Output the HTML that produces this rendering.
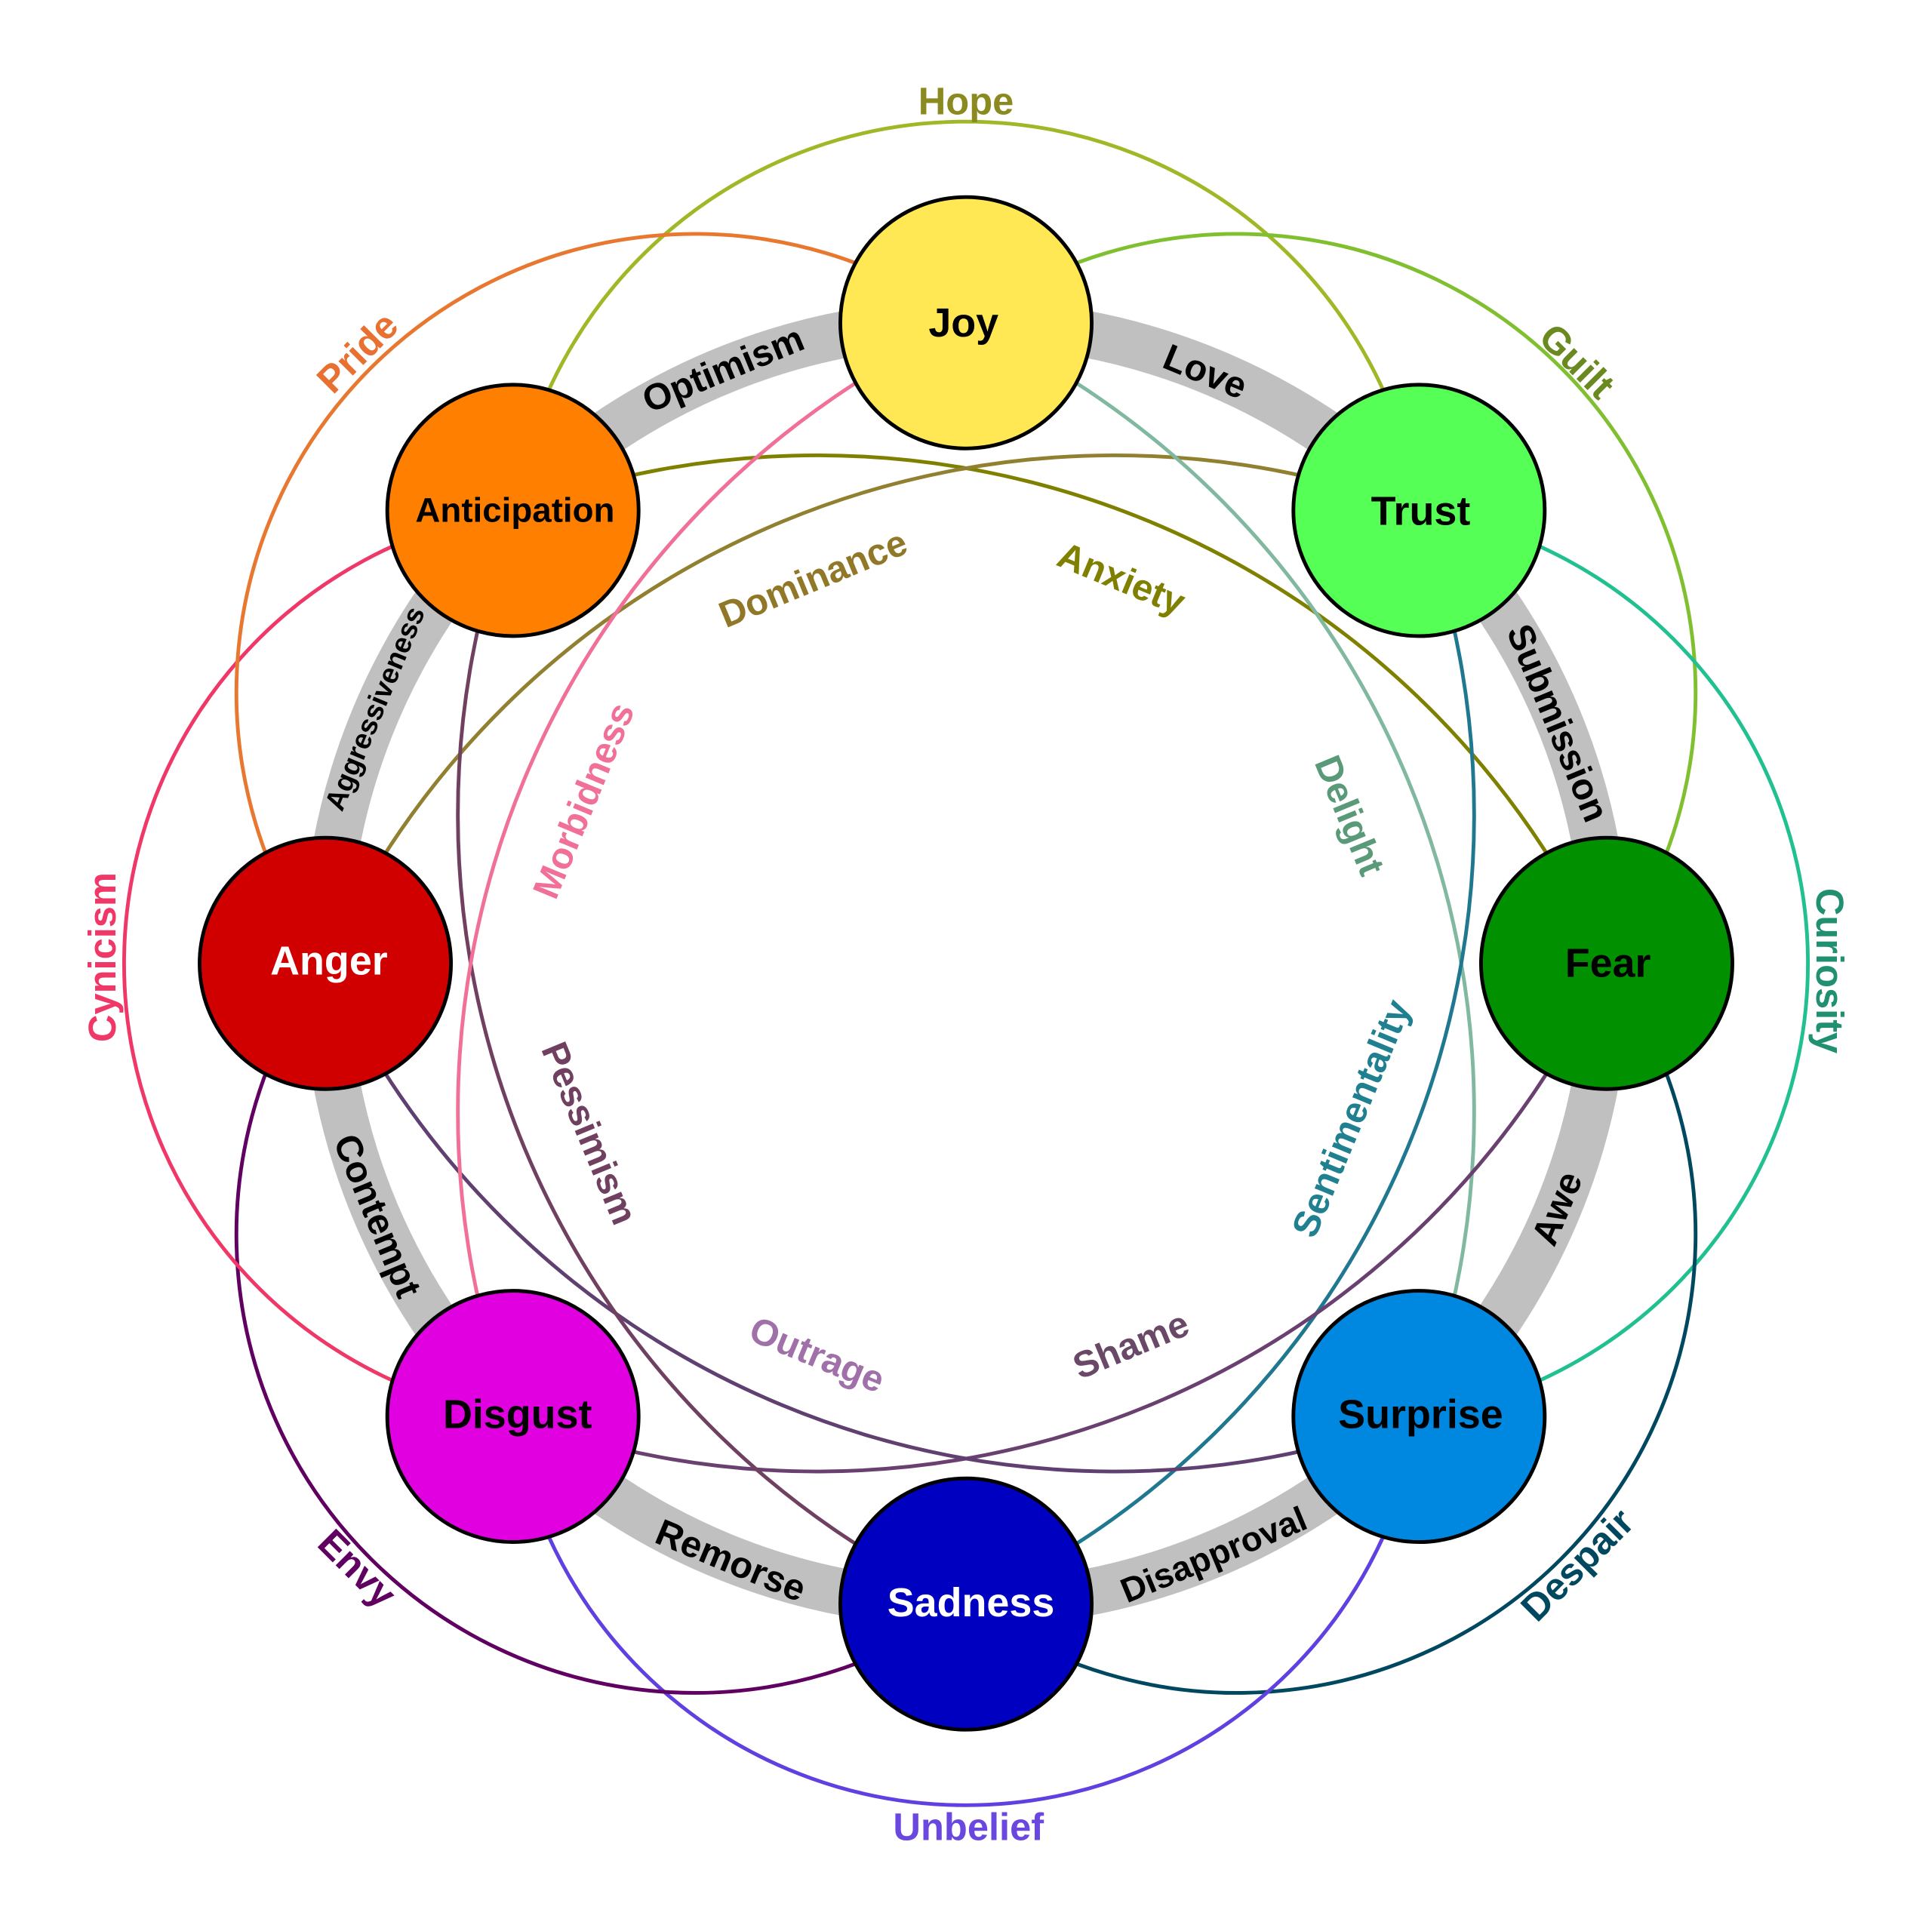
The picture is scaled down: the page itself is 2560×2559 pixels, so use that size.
<!DOCTYPE html>
<html><head><meta charset="utf-8"><style>
html,body{margin:0;padding:0;background:#fff}
svg{display:block}
text{font-family:"Liberation Sans","DejaVu Sans",sans-serif;font-weight:bold;text-anchor:middle;dominant-baseline:central}
</style></head><body>
<svg width="2560" height="2559" viewBox="0 0 1568 1567.4" xmlns="http://www.w3.org/2000/svg">
<rect width="1568" height="1568" fill="#fff"/>
<defs>
<path id="outer" d="M416.3 414.3 A372 372 0 0 1 1151.7 414.3" fill="none" stroke-width="3"/>
<path id="inner" d="M303.6 583 A704 704 0 0 1 1264.4 583" fill="none" stroke-width="3"/>
</defs>
<circle cx="784" cy="782" r="520" fill="none" stroke="#c0c0c0" stroke-width="38"/>
<g>
<use href="#outer" stroke="#a0b828" transform="rotate(0 784 782)"/>
<use href="#outer" stroke="#80c030" transform="rotate(45 784 782)"/>
<use href="#outer" stroke="#20c090" transform="rotate(90 784 782)"/>
<use href="#outer" stroke="#004860" transform="rotate(135 784 782)"/>
<use href="#outer" stroke="#6040e0" transform="rotate(180 784 782)"/>
<use href="#outer" stroke="#600060" transform="rotate(225 784 782)"/>
<use href="#outer" stroke="#f03868" transform="rotate(270 784 782)"/>
<use href="#outer" stroke="#e87830" transform="rotate(315 784 782)"/>
<use href="#inner" stroke="#808000" transform="rotate(22.5 784 782)"/>
<use href="#inner" stroke="#908030" transform="rotate(-22.5 784 782)"/>
<use href="#inner" stroke="#80b8a0" transform="rotate(67.5 784 782)"/>
<use href="#inner" stroke="#207890" transform="rotate(112.5 784 782)"/>
<use href="#inner" stroke="#6a4070" transform="rotate(157.5 784 782)"/>
<use href="#inner" stroke="#604070" transform="rotate(202.5 784 782)"/>
<use href="#inner" stroke="#704060" transform="rotate(247.5 784 782)"/>
<use href="#inner" stroke="#f07098" transform="rotate(292.5 784 782)"/>
</g>
<g font-size="30" fill="#000">
<text transform="translate(587,300) rotate(-22.5)">Optimism</text>
<text transform="translate(978,302) rotate(22.5)">Love</text>
<text transform="translate(1264,587) rotate(67.5)">Submission</text>
<text transform="translate(1264,981) rotate(-67.5)">Awe</text>
<text transform="translate(985,1262) rotate(-22.5)" font-size="28">Disapproval</text>
<text transform="translate(593,1267) rotate(22.5)">Remorse</text>
<text transform="translate(306,987) rotate(67.5)">Contempt</text>
<text transform="translate(304,575) rotate(-67.5)" font-size="23">Aggressiveness</text>
</g>
<g font-size="31">
<text transform="translate(784,82)" fill="#8a8a20">Hope</text>
<text transform="translate(1280,293) rotate(45)" fill="#6a8a20">Guilt</text>
<text transform="translate(1485,788) rotate(90)" fill="#209070">Curiosity</text>
<text transform="translate(1280,1270) rotate(-45)" fill="#004860">Despair</text>
<text transform="translate(786,1483)" fill="#6a48e0">Unbelief</text>
<text transform="translate(290,1273) rotate(45)" fill="#600060">Envy</text>
<text transform="translate(83,777) rotate(-90)" fill="#f03868">Cynicism</text>
<text transform="translate(290,286) rotate(-45)" fill="#e87030">Pride</text>
</g>
<g font-size="30">
<text transform="translate(910,470) rotate(22.5)" fill="#808000">Anxiety</text>
<text transform="translate(660,470) rotate(-22.5)" fill="#907828">Dominance</text>
<text transform="translate(1095,662) rotate(67.5)" fill="#5a9a78">Delight</text>
<text transform="translate(1097,908) rotate(-67.5)" fill="#208090">Sentimentality</text>
<text transform="translate(918,1092) rotate(-22.5)" fill="#6a4868">Shame</text>
<text transform="translate(663,1100) rotate(22.5)" fill="#a070a8">Outrage</text>
<text transform="translate(478,920) rotate(67.5)" fill="#704060">Pessimism</text>
<text transform="translate(474,650) rotate(-67.5)" fill="#f07098">Morbidness</text>
</g>
<g stroke="#000" stroke-width="3">
<circle cx="784" cy="262" r="102" fill="#ffe854"/>
<circle cx="1151.7" cy="414.3" r="102" fill="#55ff55"/>
<circle cx="1304" cy="782" r="102" fill="#009000"/>
<circle cx="1151.7" cy="1149.7" r="102" fill="#0088e0"/>
<circle cx="784" cy="1302" r="102" fill="#0000c0"/>
<circle cx="416.3" cy="1149.7" r="102" fill="#e000e0"/>
<circle cx="264" cy="782" r="102" fill="#d00000"/>
<circle cx="416.3" cy="414.3" r="102" fill="#ff8000"/>
</g>
<g font-size="33">
<text x="782" y="262" fill="#000">Joy</text>
<text x="1153" y="415" fill="#000">Trust</text>
<text x="1305" y="782" fill="#000">Fear</text>
<text x="1153" y="1148" fill="#000">Surprise</text>
<text x="788" y="1301" fill="#fff">Sadness</text>
<text x="420" y="1148" fill="#000">Disgust</text>
<text x="267" y="780" fill="#fff">Anger</text>
<text x="418" y="414" fill="#000" font-size="28">Anticipation</text>
</g>
</svg>
</body></html>
